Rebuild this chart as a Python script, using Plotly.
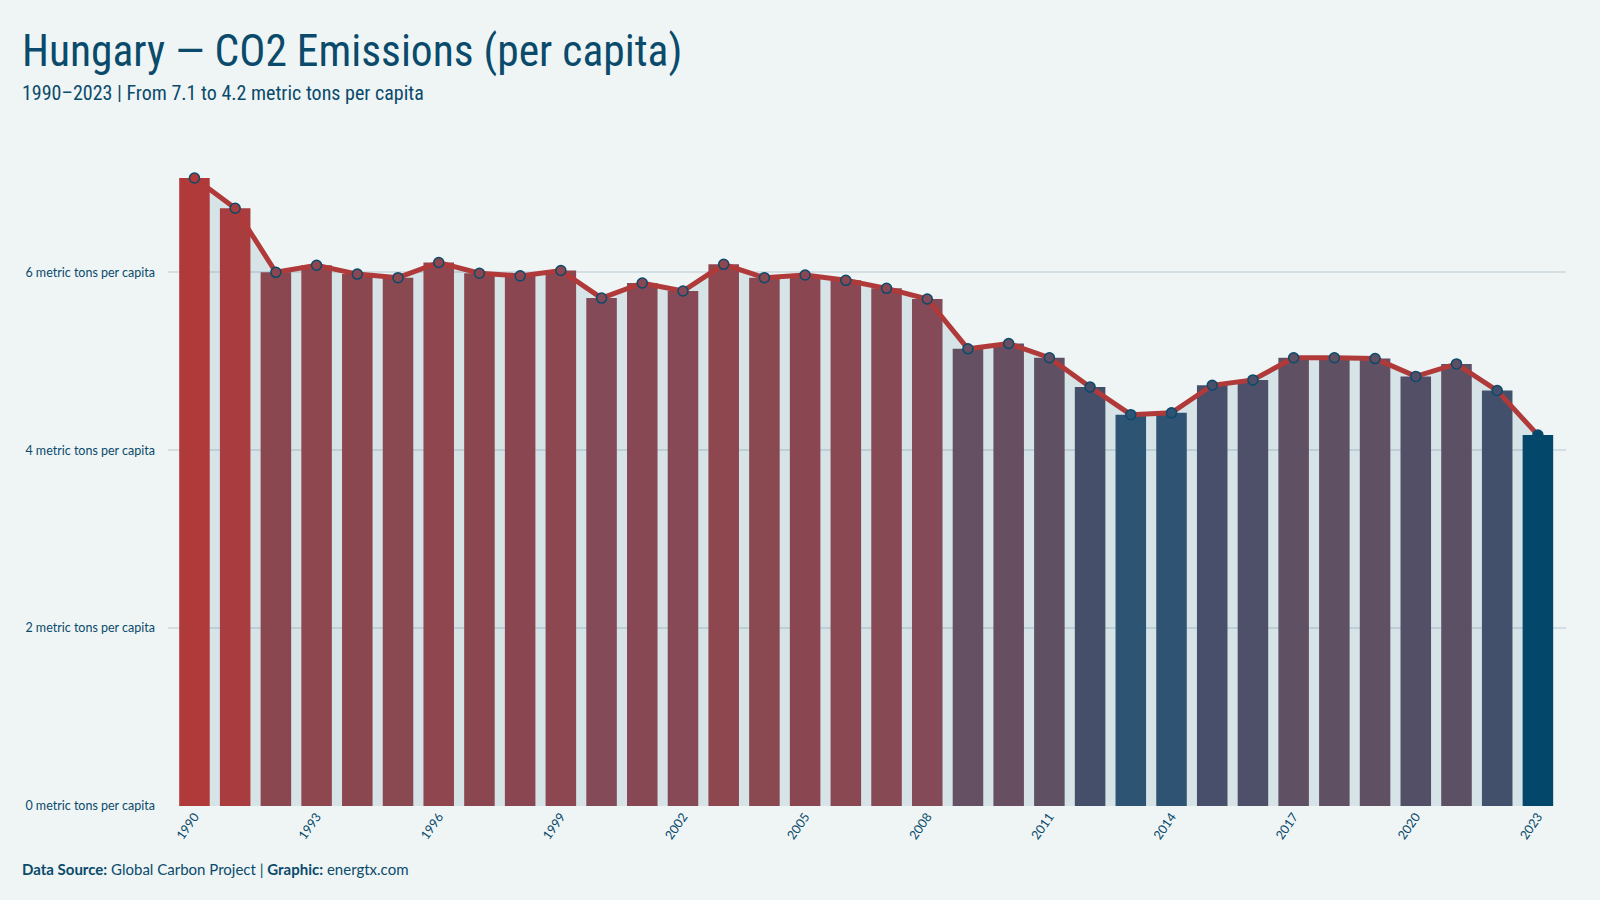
import plotly.graph_objects as go

years = list(range(1990, 2024))
values = [7.06, 6.72, 6.00, 6.08, 5.98, 5.94, 6.11, 5.99, 5.96, 6.02,
          5.71, 5.88, 5.79, 6.09, 5.94, 5.97, 5.91, 5.82, 5.70, 5.14,
          5.20, 5.04, 4.71, 4.40, 4.42, 4.73, 4.79, 5.04, 5.04, 5.03,
          4.83, 4.97, 4.67, 4.17]
x_tick_years = list(range(1990, 2024, 3))
y_tick_vals = [0, 2, 4, 6]
y_tick_text = [f"{v} metric tons per capita" for v in y_tick_vals]

title_text = "Hungary — CO2 Emissions (per capita)"
subtitle_text = "1990–2023 | From 7.1 to 4.2 metric tons per capita"
footer_text = "<b>Data Source:</b> Global Carbon Project | <b>Graphic:</b> energtx.com"

DARK = "#0a4a6b"
BG = "#eff5f5"
COND = "'Ubuntu Condensed', 'Roboto Condensed', 'Open Sans Condensed', 'Noto Sans Condensed', Lato, sans-serif"

colorscale = [
    [0.0, "#03476a"],
    [0.08, "#2e5474"],
    [0.19, "#474f6a"],
    [0.23, "#534f67"],
    [0.30, "#5f5063"],
    [0.335, "#654f62"],
    [0.53, "#844a57"],
    [0.63, "#8b4750"],
    [0.67, "#8f464f"],
    [0.88, "#a83c3e"],
    [1.0, "#b03a3a"],
]
vmin, vmax = min(values), max(values)

fig = go.Figure()

fig.add_trace(go.Scatter(
    x=years, y=values, mode="lines", line=dict(width=0),
    fill="tozeroy", fillcolor="rgba(3,71,106,0.10)",
    hoverinfo="skip", showlegend=False, xaxis="x", yaxis="y"))

fig.add_trace(go.Bar(
    x=years, y=values,
    marker=dict(color=values, colorscale=colorscale, cmin=vmin, cmax=vmax,
                line=dict(width=0)),
    showlegend=False, xaxis="x2", yaxis="y2"))

fig.add_trace(go.Scatter(
    x=years, y=values, mode="lines+markers",
    line=dict(color="#b03a3a", width=5),
    marker=dict(size=10, color=values, colorscale=colorscale, cmin=vmin, cmax=vmax,
                line=dict(color=DARK, width=1.5)),
    showlegend=False, xaxis="x2", yaxis="y2"))

xr = [1989.35, 2023.69]
yr = [0, 7.6]

fig.update_layout(
    width=1600, height=900,
    paper_bgcolor=BG, plot_bgcolor=BG,
    margin=dict(l=168, r=34, t=130, b=94),
    bargap=0.25,
    font=dict(family="Lato, 'Open Sans', sans-serif", color=DARK),
    xaxis=dict(range=xr, tickmode="array", tickvals=x_tick_years,
               ticktext=[str(y) for y in x_tick_years], tickangle=-55,
               showgrid=False, zeroline=False, showline=False,
               tickfont=dict(size=12.5, color=DARK)),
    yaxis=dict(range=yr, tickmode="array", tickvals=y_tick_vals, ticktext=y_tick_text,
               showgrid=True, gridcolor="#d3dfe3", gridwidth=1.5, zeroline=False,
               showline=False, ticklabelstandoff=12,
               tickfont=dict(size=12.5, color=DARK)),
    xaxis2=dict(range=xr, overlaying="x", visible=False),
    yaxis2=dict(range=yr, overlaying="y", visible=False),
    annotations=[
        dict(text=title_text, xref="paper", yref="paper", x=-0.1059, y=1.1154,
             xanchor="left", yanchor="middle", showarrow=False,
             font=dict(family=COND, size=43.5, color=DARK)),
        dict(text=subtitle_text, xref="paper", yref="paper", x=-0.1059, y=1.0547,
             xanchor="left", yanchor="middle", showarrow=False,
             font=dict(family=COND, size=20, color=DARK)),
        dict(text=footer_text, xref="paper", yref="paper", x=-0.1059, y=-0.0932,
             xanchor="left", yanchor="middle", showarrow=False,
             font=dict(family="Lato, 'Open Sans', sans-serif", size=15, color=DARK)),
    ],
)

fig.write_html("out.html")
